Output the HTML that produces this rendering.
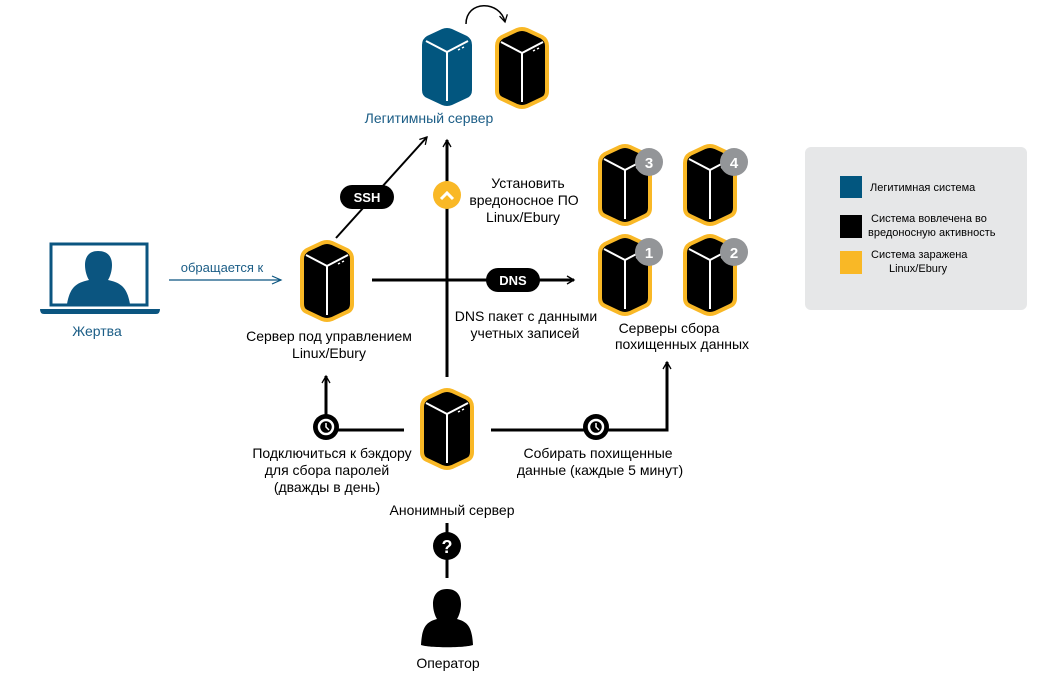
<!DOCTYPE html>
<html><head><meta charset="utf-8"><style>
body{margin:0;background:#fff;}
svg{display:block;font-family:"Liberation Sans","Noto Sans CJK SC",sans-serif;}
</style></head><body>
<svg width="1039" height="679" viewBox="0 0 1039 679" xmlns="http://www.w3.org/2000/svg">
<defs>
<g id="srv">
<path d="M0,17 Q0,11 5,8 L20,1 Q25,-1 30,1 L45,8 Q50,11 50,17 L50,62 Q50,68 45,70 L30,77 Q25,79 20,77 L5,70 Q0,68 0,62 Z"/>
<path d="M4,13 L25,24 L46,13 M25,24 L25,73" stroke="#fff" stroke-width="2" fill="none"/>
<path d="M36,22 l2,-1 M40,20 l2,-1" stroke="#fff" stroke-width="1.5"/>
</g>
<marker id="ah" markerWidth="10" markerHeight="10" refX="8" refY="5" orient="auto" markerUnits="userSpaceOnUse"><path d="M1,1 L8,5 L1,9" fill="none" stroke="#000" stroke-width="1.3"/></marker>
<marker id="ahb" markerWidth="12" markerHeight="10" refX="10" refY="5" orient="auto" markerUnits="userSpaceOnUse"><path d="M1,1 L10,5 L1,9" fill="none" stroke="#0b5580" stroke-width="1.2"/></marker>
</defs>

<!-- top -->
<use href="#srv" x="422" y="28" fill="#02567f"/>
<use href="#srv" x="497" y="29" fill="#000" stroke="#f9b826" stroke-width="4"/>
<path d="M466,24 C466,0 500,0 505,22" fill="none" stroke="#000" stroke-width="1.5" marker-end="url(#ah)"/>
<text x="429" y="123" font-size="14" fill="#1b5d86" text-anchor="middle">Легитимный сервер</text>

<!-- lines -->
<line x1="336" y1="238" x2="427" y2="137" stroke="#000" stroke-width="2" marker-end="url(#ah)"/>
<rect x="340" y="185" width="54" height="24" rx="12" fill="#000"/>
<text x="367" y="202" font-size="13" font-weight="bold" fill="#fff" text-anchor="middle">SSH</text>
<line x1="447" y1="377" x2="447" y2="140" stroke="#000" stroke-width="3" marker-end="url(#ah)"/>
<circle cx="447" cy="195" r="14" fill="#f9b826"/>
<path d="M441,199 L447,193 L453,199" stroke="#fff" stroke-width="3" fill="none"/>
<text font-size="14" fill="#000" text-anchor="middle"><tspan x="528" y="188">Установить</tspan><tspan x="524" y="205">вредоносное ПО</tspan><tspan x="523" y="222">Linux/Ebury</tspan></text>

<line x1="372" y1="280" x2="574" y2="280" stroke="#000" stroke-width="3" marker-end="url(#ah)"/>
<rect x="486" y="268" width="54" height="24" rx="12" fill="#000"/>
<text x="513" y="285" font-size="13" font-weight="bold" fill="#fff" text-anchor="middle">DNS</text>
<text font-size="14" fill="#000" text-anchor="middle"><tspan x="526" y="321">DNS пакет с данными</tspan><tspan x="525" y="338">учетных записей</tspan></text>

<!-- victim -->
<rect x="51" y="244" width="96" height="61" fill="none" stroke="#0b5580" stroke-width="3"/>
<path d="M40,309 L160,309 Q160,314 156,314 L44,314 Q40,314 40,309 Z" fill="#0b5580"/>
<path d="M98,251 c-10,0 -13,7 -13,14 c0,6 2,12 4,15 c-14,3 -19,8 -22,24 l63,0 c-3,-16 -8,-21 -22,-24 c2,-3 4,-9 4,-15 c0,-7 -3,-14 -14,-14z" fill="#0b5580"/>
<text x="97" y="336" font-size="14" fill="#1b5d86" text-anchor="middle">Жертва</text>
<line x1="169" y1="280" x2="281" y2="280" stroke="#0b5580" stroke-width="1.2" marker-end="url(#ahb)"/>
<text x="222" y="272" font-size="13" fill="#1b5d86" text-anchor="middle">обращается к</text>

<!-- controlled server -->
<use href="#srv" x="302" y="242" fill="#000" stroke="#f9b826" stroke-width="4"/>
<text font-size="14" fill="#000" text-anchor="middle"><tspan x="329" y="341">Сервер под управлением</tspan><tspan x="329" y="358">Linux/Ebury</tspan></text>

<!-- collect servers -->
<g fill="#000" stroke="#f9b826" stroke-width="4">
<use href="#srv" x="600" y="146"/><use href="#srv" x="685" y="146"/>
<use href="#srv" x="600" y="236"/><use href="#srv" x="685" y="236"/>
</g>
<g fill="#939598"><circle cx="649" cy="162" r="14"/><circle cx="734" cy="162" r="14"/><circle cx="649" cy="252" r="14"/><circle cx="734" cy="252" r="14"/></g>
<g fill="#fff" font-size="15" font-weight="bold" text-anchor="middle">
<text x="649" y="168">3</text><text x="734" y="168">4</text><text x="649" y="258">1</text><text x="734" y="258">2</text></g>
<text font-size="14" fill="#000" text-anchor="middle"><tspan x="669" y="333">Серверы сбора</tspan><tspan x="682" y="349">похищенных данных</tspan></text>

<!-- anonymous -->
<use href="#srv" x="422" y="390" fill="#000" stroke="#f9b826" stroke-width="4"/>
<polyline points="404,430 326,430 326,376" fill="none" stroke="#000" stroke-width="3" marker-end="url(#ah)"/>
<polyline points="491,430 667,430 667,362" fill="none" stroke="#000" stroke-width="3" marker-end="url(#ah)"/>
<g>
<circle cx="326" cy="427" r="13" fill="#000"/><circle cx="326" cy="427" r="7" fill="none" stroke="#fff" stroke-width="2.5"/><path d="M326,423 L326,427 L329,430" stroke="#fff" stroke-width="1.5" fill="none"/>
<circle cx="596" cy="427" r="13" fill="#000"/><circle cx="596" cy="427" r="7" fill="none" stroke="#fff" stroke-width="2.5"/><path d="M596,423 L596,427 L599,430" stroke="#fff" stroke-width="1.5" fill="none"/>
</g>
<text font-size="14" fill="#000" text-anchor="middle"><tspan x="332" y="458">Подключиться к бэкдору</tspan><tspan x="327" y="475">для сбора паролей</tspan><tspan x="327" y="492">(дважды в день)</tspan></text>
<text font-size="14" fill="#000" text-anchor="middle"><tspan x="598" y="458">Собирать похищенные</tspan><tspan x="600" y="475">данные (каждые 5 минут)</tspan></text>
<text x="452" y="515" font-size="14" fill="#000" text-anchor="middle">Анонимный сервер</text>

<line x1="447" y1="523" x2="447" y2="578" stroke="#000" stroke-width="3"/>
<circle cx="447" cy="546" r="14" fill="#000"/>
<text x="447" y="553" font-size="18" font-weight="bold" fill="#fff" text-anchor="middle">?</text>
<path d="M447,589 c-11,0 -14,8 -14,15 c0,6 2,12 4,15 c-11,3 -15,8 -16,26 c8,3 44,3 52,0 c-1,-18 -5,-23 -16,-26 c2,-3 4,-9 4,-15 c0,-7 -3,-15 -14,-15z" fill="#000"/>
<text x="448" y="668" font-size="14" fill="#000" text-anchor="middle">Оператор</text>

<!-- legend -->
<rect x="805" y="147" width="222" height="163" rx="6" fill="#e6e7e8"/>
<rect x="840" y="176" width="22" height="22" fill="#02567f"/>
<rect x="840" y="215" width="22" height="23" fill="#000"/>
<rect x="840" y="251" width="22" height="23" fill="#f9b826"/>
<g font-size="11" fill="#000">
<text x="870" y="191">Легитимная система</text>
<text x="871" y="222">Система вовлечена во</text>
<text x="868" y="236">вредоносную активность</text>
<text x="871" y="258">Система заражена</text>
<text x="889" y="272">Linux/Ebury</text>
</g>
</svg>
</body></html>
